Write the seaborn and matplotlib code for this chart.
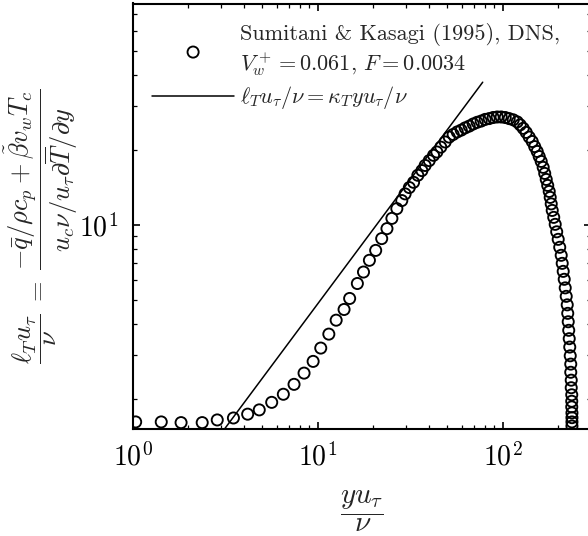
import matplotlib
matplotlib.use('Agg')
import matplotlib.pyplot as plt
import seaborn as sns
from matplotlib.ticker import NullFormatter

# DNS дані (Sumitani & Kasagi 1995): y u_tau / nu  та  l_T u_tau / nu
y_plus = [1.04, 1.43, 1.83, 2.38, 2.87, 3.51, 4.19, 4.84, 5.65, 6.53,
          7.46, 8.45, 9.46, 10.4, 11.5, 12.6, 13.9, 14.9, 16.4, 17.7,
          19.05, 20.6, 22.2, 23.7, 25.2, 26.8, 28.5, 29.7, 31.3, 33.0,
          34.8, 36.6, 38.1, 40.1, 42.3, 44.1, 46.3, 48.9, 51.4,
          54.0, 56.8, 59.7, 62.7, 65.9, 69.3, 72.8, 76.5, 80.4, 84.5,
          88.8, 93.4, 98.1, 103.2, 108.4, 114.0, 119.8,
          124.3, 129.1, 134.0, 139.1, 144.4, 148.9, 153.6, 157.5, 161.5, 165.5,
          168.7, 171.9, 175.1, 178.4, 180.6, 182.9, 185.2, 188.7, 192.2, 195.8,
          199.5, 203.3, 207.1, 209.7, 212.3, 215.0, 217.7, 220.4, 223.2, 224.6,
          226.0, 227.4, 228.8, 230.3, 231.7, 233.2, 233.2, 234.6, 234.6, 236.1,
          236.1, 236.1, 236.7, 236.7, 236.7, 236.7]
lt_plus = [1.61, 1.61, 1.60, 1.60, 1.64, 1.67, 1.73, 1.80, 1.93, 2.08,
           2.28, 2.53, 2.82, 3.19, 3.63, 4.13, 4.56, 5.05, 5.80, 6.45,
           7.19, 7.88, 8.79, 9.64, 10.6, 11.6, 12.5, 13.3, 14.1, 14.8,
           15.8, 16.5, 17.3, 18.1, 19.0, 19.6, 20.5, 21.5, 22.5,
           23.05, 23.6, 24.0, 24.5, 24.9, 25.4, 25.8, 26.1, 26.5, 26.7,
           26.97, 27.1, 27.1, 26.97, 26.7, 26.4, 25.9,
           25.2, 24.4, 23.5, 22.5, 21.6, 20.6, 19.7, 18.8, 17.96, 17.0,
           16.07, 15.2, 14.38, 13.6, 12.87, 12.12, 11.41, 10.70, 10.03, 9.36,
           8.73, 8.11, 7.53, 6.99, 6.49, 6.03, 5.57, 5.15, 4.76, 4.40,
           4.07, 3.76, 3.48, 3.22, 2.97, 2.75, 2.55, 2.37, 2.21, 2.07,
           1.95, 1.85, 1.75, 1.675, 1.61, 1.55]

# пряма l_T = kappa_T * y (kappa_T ~ 0.48)
line_x = [3.0, 78.0]
line_y = [1.44, 37.4]

dns_label = 'Sumitani & Kasagi (1995), DNS,\n$V_w^+ = 0.061$, $F = 0.0034$'
line_label = r'$\ell_T u_\tau/\nu = \kappa_T y u_\tau/\nu$'

sns.set_theme(style='ticks')
plt.rcParams['font.family'] = 'serif'
plt.rcParams['font.serif'] = ['cmr10']
plt.rcParams['mathtext.fontset'] = 'cm'
plt.rcParams['axes.formatter.use_mathtext'] = True

fig = plt.figure(figsize=(5.88, 5.36), dpi=100)
ax = fig.add_axes([132.5 / 588, (536 - 428.5) / 536, (591 - 132.5) / 588, 425 / 536])
ax.set_xscale('log')
ax.set_yscale('log')

sns.scatterplot(x=y_plus, y=lt_plus, ax=ax, marker='o', s=64,
                facecolors='none', edgecolor='black', linewidth=1.35,
                label=dns_label, zorder=3)
sns.lineplot(x=line_x, y=line_y, ax=ax, color='black', linewidth=1.1,
             label=line_label)

ax.set_xlim(1, 300)
ax.set_ylim(1.515, 77.5)

for s in ax.spines.values():
    s.set_linewidth(1.5)
    s.set_color('black')
ax.tick_params(which='both', direction='in', top=True, right=True,
               colors='black', labelsize=20, pad=10)
ax.tick_params(which='major', length=5, width=1.2)
ax.tick_params(which='minor', length=2.8, width=0.9)
ax.xaxis.set_minor_formatter(NullFormatter())
ax.yaxis.set_minor_formatter(NullFormatter())

ax.set_xlabel(r'$\dfrac{y u_\tau}{\nu}$', fontsize=21)
ax.set_ylabel(r'$\dfrac{\ell_T u_\tau}{\nu} \;=\; '
              r'\dfrac{-\bar{q}/\rho c_p + \tilde{\beta} v_w T_c}'
              r'{u_c \nu/u_\tau \partial \overline{T}/\partial y}$', fontsize=19)
ax.xaxis.set_label_coords(0.5, -0.143)
ax.yaxis.set_label_coords(-0.115, 0.475)

ax.legend(loc='upper left', bbox_to_anchor=(0.0425, 0.955), frameon=False,
          fontsize=16, handlelength=3.7, handletextpad=0.27,
          borderpad=0, borderaxespad=0, labelspacing=0.3)

fig.savefig('out.png', dpi=100)
